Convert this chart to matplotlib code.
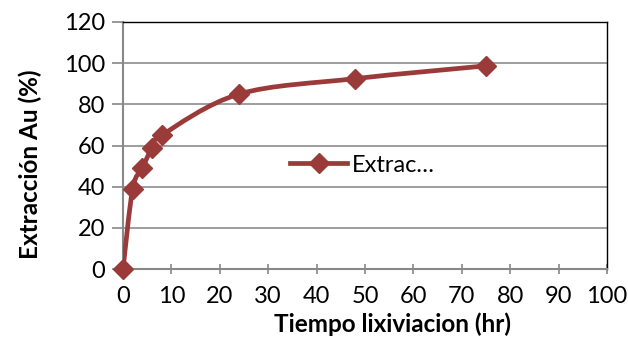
import matplotlib
matplotlib.use('Agg')
import matplotlib.pyplot as plt
import numpy as np
from matplotlib.path import Path
from matplotlib.patches import PathPatch
from matplotlib.lines import Line2D

plt.rcParams['font.family'] = ['Lato', 'DejaVu Sans']

# data
tiempo_hr = [0, 2, 4, 6, 8, 24, 48, 75]
extraccion = [0, 39, 49, 59, 65, 85, 92.5, 98.7]

x_ticks = list(range(0, 101, 10))
y_ticks = list(range(0, 121, 20))

COLOR = '#9A3B3A'


def smooth_path(xs, ys):
    # Excel-style smoothed line: cubic bezier, catmull-rom control points
    pts = np.column_stack([xs, ys]).astype(float)
    n = len(pts)
    verts = [pts[0]]
    codes = [Path.MOVETO]
    for i in range(n - 1):
        p0 = pts[max(i - 1, 0)]
        p1 = pts[i]
        p2 = pts[i + 1]
        p3 = pts[min(i + 2, n - 1)]
        c1 = p1 + (p2 - p0) / 6.0
        c2 = p2 - (p3 - p1) / 6.0
        verts += [c1, c2, p2]
        codes += [Path.CURVE4] * 3
    return Path(verts, codes)


fig = plt.figure(figsize=(6.28, 3.40), dpi=100)
ax = fig.add_axes([123 / 628, 1 - 269 / 340, (607 - 123) / 628, (269 - 22) / 340])

ax.set_xlim(0, 100)
ax.set_ylim(0, 120)
ax.set_xticks(x_ticks)
ax.set_yticks(y_ticks)
ax.tick_params(axis='both', labelsize=17, colors='#888888', labelcolor='black',
               width=1.2, length=7)
ax.tick_params(axis='x', direction='inout', pad=9)
ax.tick_params(axis='y', direction='out', length=8, pad=5)

ax.grid(axis='y', color='#8c8c8c', linewidth=1.2)
ax.set_axisbelow(True)
for s in ['left', 'bottom']:
    ax.spines[s].set_color('#888888')
    ax.spines[s].set_linewidth(1.5)
for s in ['top', 'right']:
    ax.spines[s].set_color('black')
    ax.spines[s].set_linewidth(1.0)

patch = PathPatch(smooth_path(tiempo_hr, extraccion), facecolor='none',
                  edgecolor=COLOR, linewidth=3.4, capstyle='round', joinstyle='round',
                  zorder=3)
ax.add_patch(patch)
ax.plot(tiempo_hr, extraccion, linestyle='none', marker='D', markersize=10,
        color=COLOR, zorder=4, clip_on=False)

ax.set_xlabel('Tiempo lixiviacion (hr)', fontsize=17.5, fontweight='bold')
ax.xaxis.set_label_coords(0.556, -0.175)
ax.set_ylabel('Extracción Au (%)', fontsize=17.5, fontweight='bold')
ax.yaxis.set_label_coords(-0.168, 0.425)

handle = Line2D([], [], color=COLOR, linewidth=3.4, marker='D', markersize=10)
ax.legend([handle], ['Extrac…'], loc='center left', bbox_to_anchor=(0.346, 0.42),
          frameon=False, fontsize=17, handlelength=2.4, handletextpad=0.2,
          borderpad=0, borderaxespad=0)

fig.savefig('out.png', dpi=100)
